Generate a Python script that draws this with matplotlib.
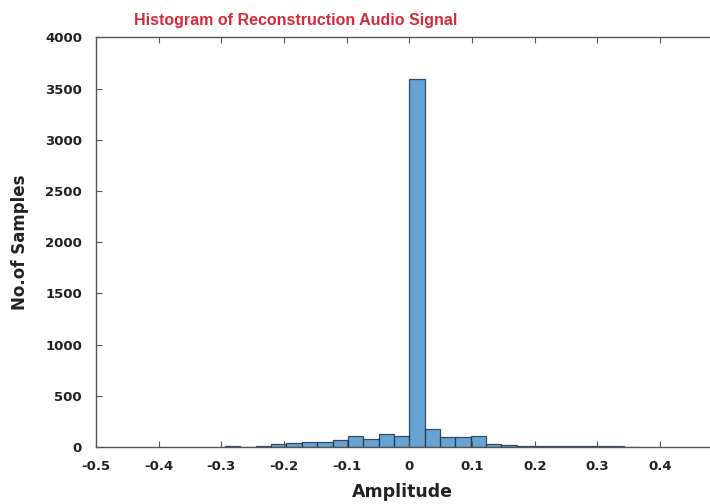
import numpy as np
import matplotlib.pyplot as plt

plt.rcParams['font.family'] = ['DejaVu Sans']

# histogram bins (left edges) and counts
bin_width = 0.0245
bin_left = np.arange(-12, 15) * bin_width
counts = [8, 5, 10, 25, 35, 45, 50, 70, 110, 80, 130, 105,
          3590, 180, 100, 95, 105, 30, 20, 12, 10, 8, 6, 12, 15, 8, 4]

x_ticks = [-0.5, -0.4, -0.3, -0.2, -0.1, 0, 0.1, 0.2, 0.3, 0.4, 0.5]
x_labels = ['-0.5', '-0.4', '-0.3', '-0.2', '-0.1', '0', '0.1', '0.2', '0.3', '0.4', '']
y_ticks = [0, 500, 1000, 1500, 2000, 2500, 3000, 3500, 4000]

fig = plt.figure(figsize=(7.1, 5.04), dpi=100)
ax = fig.add_axes([0.135, 0.113, 0.883, 0.813])

ax.bar(bin_left, counts, width=bin_width, align='edge',
       color='#4d94cc', alpha=0.85, edgecolor='#1a3550', linewidth=0.9)

ax.set_xlim(-0.5, 0.5)
ax.set_ylim(0, 4000)
ax.set_xticks(x_ticks)
ax.set_xticklabels(x_labels)
ax.set_yticks(y_ticks)

for s in ax.spines.values():
    s.set_color('#555555')
    s.set_linewidth(1.0)
ax.tick_params(direction='in', top=True, right=True, colors='#555555',
               labelcolor='#222222', labelsize=9.5, length=4)
ax.tick_params(axis='x', pad=9)
ax.tick_params(axis='y', pad=10)
for lab in ax.get_xticklabels() + ax.get_yticklabels():
    lab.set_fontweight('bold')

# title sits left of the axes centre in the reference
fig.text(296 / 710, 1 - 20 / 504, 'Histogram of Reconstruction Audio Signal',
         color='#d42b3a', fontsize=11.5, fontweight='bold', ha='center', va='center',
         family='Liberation Sans')
ax.set_xlabel('Amplitude', fontsize=12.5, fontweight='bold', color='#222222')
ax.set_ylabel('No.of Samples', fontsize=12, fontweight='bold', color='#222222')
ax.xaxis.set_label_coords((403 - 96) / 627, -0.088)
ax.yaxis.set_label_coords(-(96 - 29) / 627, (447 - 242) / 410)

fig.savefig('out.png', dpi=100)
